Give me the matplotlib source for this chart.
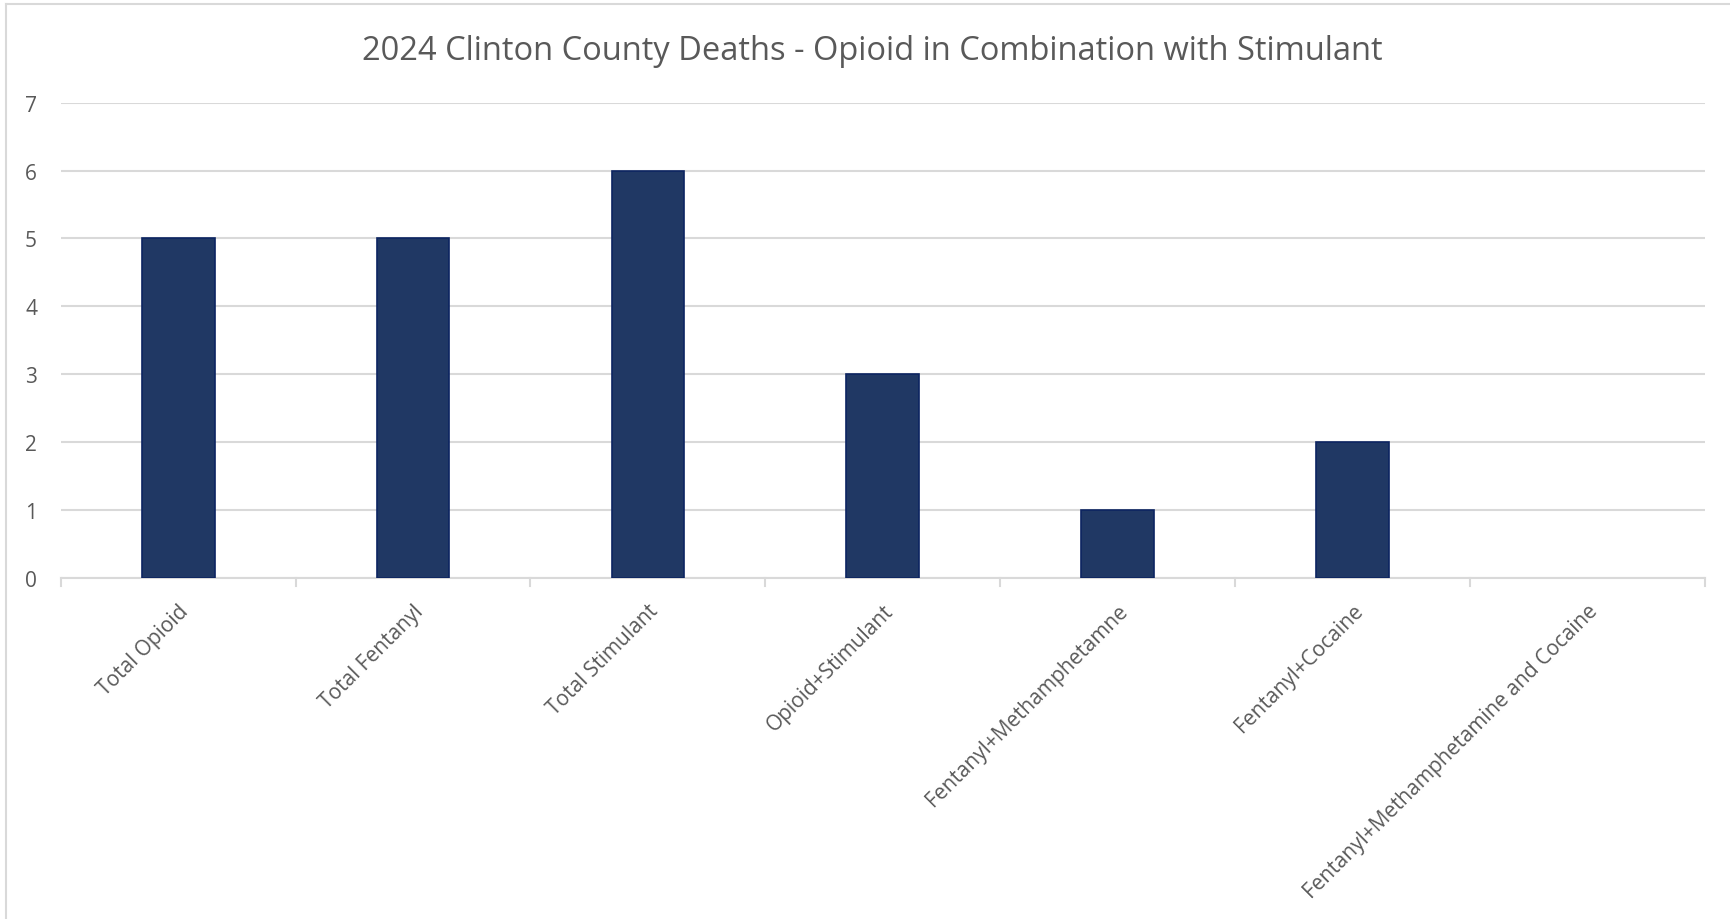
import matplotlib
matplotlib.use("Agg")
import matplotlib.pyplot as plt
from matplotlib.lines import Line2D
import numpy as np

categories = [
    "Total Opioid",
    "Total Fentanyl",
    "Total Stimulant",
    "Opioid+Stimulant",
    "Fentanyl+Methamphetamne",
    "Fentanyl+Cocaine",
    "Fentanyl+Methamphetamine and Cocaine",
]
deaths = [5, 5, 6, 3, 1, 2, 0]
y_ticks = [0, 1, 2, 3, 4, 5, 6, 7]
title = "2024 Clinton County Deaths - Opioid in Combination with Stimulant"

FONT = ["Open Sans", "DejaVu Sans"]
TEXT = "#595959"
GRID = "#d9d9d9"

fig = plt.figure(figsize=(17.3, 9.2), dpi=100)
fig.patch.set_facecolor("white")
ax = fig.add_axes([0.0351, 0.3707, 0.9504, 0.5166])

x = np.arange(len(categories))
edge_widths = [1.2 if v > 0 else 0 for v in deaths]
ax.bar(x, deaths, width=0.31, color="#203864", edgecolor="#0c2461",
       linewidth=edge_widths, zorder=3)

ax.set_xlim(-0.5, len(categories) - 0.5)
ax.set_ylim(0, 7)
ax.set_yticks(y_ticks)
ax.set_yticklabels([str(v) for v in y_ticks], family=FONT, fontsize=15,
                   color=TEXT)
ax.tick_params(axis="y", length=0, pad=17)
ax.yaxis.grid(True, color=GRID, linewidth=1.5, zorder=0)
ax.set_axisbelow(True)

ax.set_xticks(x)
ax.set_xticklabels(categories, family=FONT, fontsize=15, color=TEXT,
                   rotation=45, ha="right", rotation_mode="anchor")
ax.tick_params(axis="x", length=0, pad=16)

# tick marks sit on the boundaries between categories
for b in np.arange(-0.5, len(categories), 1.0):
    ax.plot([b, b], [0, -0.12], color=GRID, linewidth=1.5,
            clip_on=False, zorder=2)

for side in ("top", "right", "left"):
    ax.spines[side].set_visible(False)
ax.spines["bottom"].set_color(GRID)
ax.spines["bottom"].set_linewidth(1.5)

fig.text(0.504, 0.944, title, family=FONT, fontsize=23.5, color=TEXT,
         ha="center", va="center")

# chart-area frame
fig.add_artist(Line2D([0.0035, 0.0035], [0.0, 0.9946], color=GRID,
                      linewidth=1.5, transform=fig.transFigure))
fig.add_artist(Line2D([0.0035, 1.0], [0.9946, 0.9946], color=GRID,
                      linewidth=1.5, transform=fig.transFigure))

fig.savefig("out.png", dpi=100, facecolor="white")
